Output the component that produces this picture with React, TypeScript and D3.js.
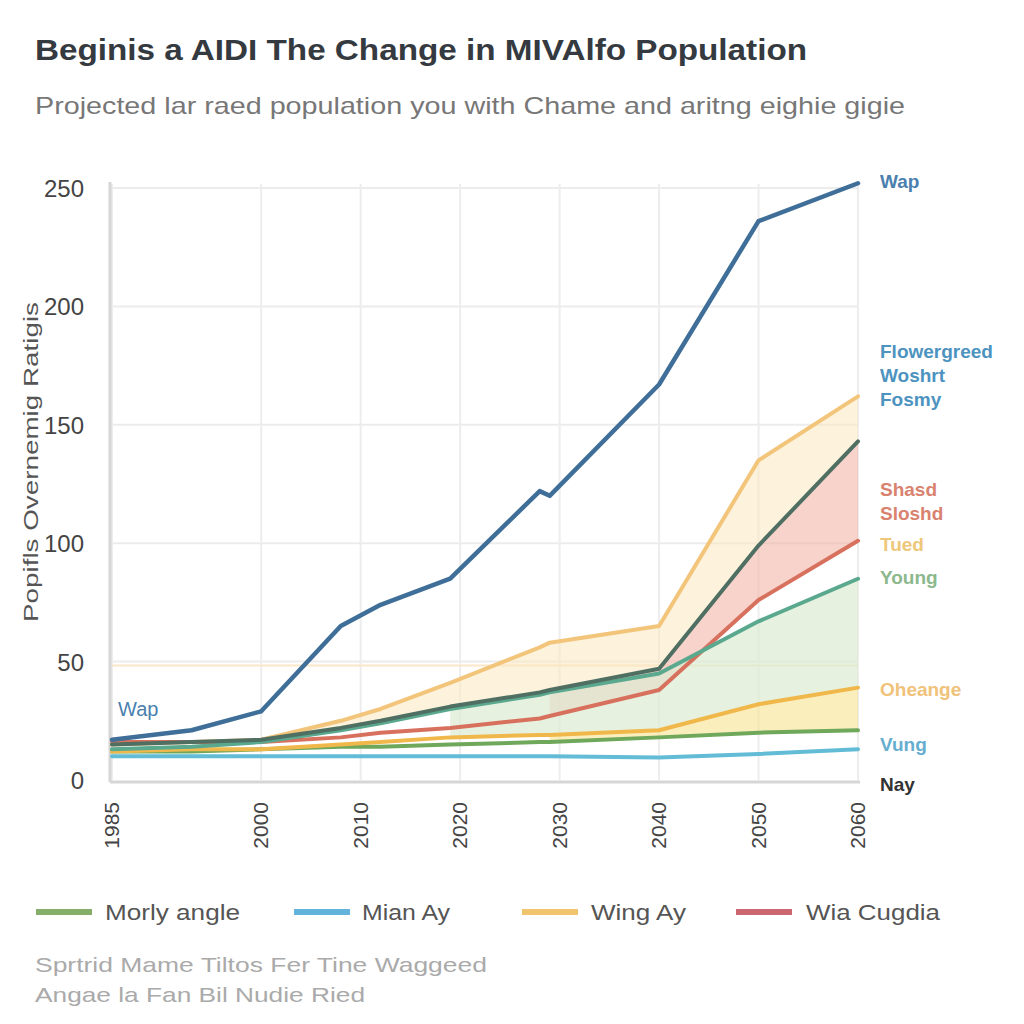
import React from "react";
import * as d3 from "d3";

const years = [1985, 1993, 2000, 2008, 2012, 2019, 2028, 2029, 2040, 2050, 2060];
const tickYears = [1985, 2000, 2010, 2020, 2030, 2040, 2050, 2060];
const yTicks = [0, 50, 100, 150, 200, 250];

const blueVals = [17, 21, 29, 65, 74, 85, 122, 120, 167, 236, 252];
const orangeTopVals = [15, 16, 17, 25, 30, 41, 56, 58, 65, 135, 162];
const darkGreenVals = [15, 16, 17, 22, 25, 31, 37, 38, 47, 99, 143];
const tealVals = [13, 14, 16, 21, 24, 30, 36, 37, 45, 67, 85];
const redVals = [16, 16, 16, 18, 20, 22, 26, 27, 38, 76, 101];
const orangeLowVals = [12, 13, 13, 15, 16, 18, 19, 19, 21, 32, 39];
const greenLowVals = [12, 12, 13, 14, 14, 15, 16, 16, 18, 20, 21];
const lightBlueVals = [10, 10, 10, 10, 10, 10, 10, 10, 9.5, 11, 13];

const legendNames = ["Morly angle", "Mian Ay", "Wing Ay", "Wia Cugdia"];
const legendColors = ["#86ad6a", "#64b3dc", "#f1c46e", "#cc6670"];

const W = 1024;
const H = 1024;
const left = 110;
const right = 858;
const top = 188;
const bottom = 780;

export default function App() {
  const x = d3.scaleLinear().domain([1985, 2060]).range([112, right]);
  const y = d3.scaleLinear().domain([0, 250]).range([bottom, top]);

  const line = (vals: number[]) =>
    d3
      .line<number>()
      .x((_, i) => x(years[i]))
      .y((v) => y(v))(vals) as string;

  const band = (hi: number[], lo: number[], from: number) => {
    const idx = years.map((_, i) => i).filter((i) => years[i] >= from);
    return d3
      .area<number>()
      .x((i) => x(years[i]))
      .y0((i) => y(lo[i]))
      .y1((i) => y(hi[i]))(idx) as string;
  };

  const series = [
    { vals: lightBlueVals, color: "#62bcd6", w: 4 },
    { vals: greenLowVals, color: "#6fa85a", w: 4 },
    { vals: orangeLowVals, color: "#f0b84a", w: 4 },
    { vals: orangeTopVals, color: "#f2c57a", w: 4 },
    { vals: redVals, color: "#d8705e", w: 4 },
    { vals: tealVals, color: "#5aa88e", w: 4 },
    { vals: darkGreenVals, color: "#4f6f62", w: 4 },
    { vals: blueVals, color: "#3f6f98", w: 4.5 },
  ];

  const rightLabels = [
    { t: ["Wap"], yy: 182, c: "#4a7fae" },
    { t: ["Flowergreed", "Woshrt", "Fosmy"], yy: 352, c: "#4d93bf" },
    { t: ["Shasd", "Sloshd"], yy: 490, c: "#d9826f" },
    { t: ["Tued"], yy: 545, c: "#eec77a" },
    { t: ["Young"], yy: 578, c: "#8cb88d" },
    { t: ["Oheange"], yy: 690, c: "#f0c27a" },
    { t: ["Vung"], yy: 745, c: "#66aed0" },
    { t: ["Nay"], yy: 785, c: "#333" },
  ];

  const font = "'Liberation Sans Narrow', 'Liberation Sans', Arial, sans-serif";
  const legendX = [36, 294, 522, 736];
  const legendTextX = [105, 362, 591, 806];
  const legendTextW = [135, 88, 95, 134];

  return (
    <svg width={W} height={H} style={{ position: "absolute", left: 0, top: 0, background: "#fff" }} fontFamily={font}>
      <rect width={W} height={H} fill="#fff" />
      <text x={35} y={60} fontSize={30} fontWeight="bold" fill="#353a40" textLength={772} lengthAdjust="spacingAndGlyphs">
        Beginis a AIDI The Change in MIVAlfo Population
      </text>
      <text x={35} y={114} fontSize={24} fill="#777" textLength={870} lengthAdjust="spacingAndGlyphs">
        Projected lar raed population you with Chame and aritng eighie gigie
      </text>

      {/* grid */}
      {yTicks.filter((t) => t > 0).map((t) => (
        <line key={"gy" + t} x1={left} x2={right} y1={y(t)} y2={y(t)} stroke="#ececec" strokeWidth={2} />
      ))}
      {tickYears.map((t) => (
        <line key={"gx" + t} x1={x(t)} x2={x(t)} y1={top - 4} y2={bottom} stroke="#ededed" strokeWidth={2} />
      ))}
      <line x1={left} x2={right} y1={y(50) + 4} y2={y(50) + 4} stroke="#fbe6c8" strokeWidth={2} />

      {/* bands */}
      <path d={band(orangeTopVals, darkGreenVals, 2000)} fill="#fbe8bf" opacity={0.55} />
      <path d={band(darkGreenVals, redVals, 2029)} fill="#f1b6aa" opacity={0.6} />
      <path d={band(tealVals, orangeLowVals, 2019)} fill="#dcebd2" opacity={0.7} />
      <path d={band(orangeLowVals, greenLowVals, 2029)} fill="#f9e291" opacity={0.6} />

      {/* axes */}
      <line x1={left} x2={left} y1={top - 6} y2={bottom + 2} stroke="#d6d6d6" strokeWidth={3} />
      <line x1={left} x2={right + 2} y1={bottom + 2} y2={bottom + 2} stroke="#d6d6d6" strokeWidth={3} />

      {series.map((s, i) => (
        <path key={i} d={line(s.vals)} fill="none" stroke={s.color} strokeWidth={s.w} strokeLinejoin="round" strokeLinecap="round" />
      ))}

      {yTicks.map((t) => (
        <text key={"yt" + t} x={84} y={y(t) + 9} fontSize={24} fill="#444" textAnchor="end">
          {t}
        </text>
      ))}
      {tickYears.map((t) => (
        <text
          key={"xt" + t}
          transform={`translate(${x(t) + 7},${802}) rotate(-90)`}
          fontSize={21}
          fill="#444"
          textAnchor="end"
        >
          {t}
        </text>
      ))}

      <text transform="translate(38,462) rotate(-90)" fontSize={21} fill="#555" textAnchor="middle" textLength={320} lengthAdjust="spacingAndGlyphs">
        Popifls Overnemig Ratigis
      </text>

      <text x={118} y={716} fontSize={20} fill="#4a7fae">Wap</text>

      {rightLabels.map((l, i) => (
        <text key={"rl" + i} x={880} y={l.yy + 6} fontSize={19} fill={l.c} fontWeight="bold">
          {l.t.map((s, j) => (
            <tspan key={j} x={880} dy={j === 0 ? 0 : 24}>
              {s}
            </tspan>
          ))}
        </text>
      ))}

      {legendNames.map((n, i) => (
        <g key={n}>
          <line x1={legendX[i]} x2={legendX[i] + 56} y1={912} y2={912} stroke={legendColors[i]} strokeWidth={6} />
          <text x={legendTextX[i]} y={920} fontSize={22} fill="#555" textLength={legendTextW[i]} lengthAdjust="spacingAndGlyphs">
            {n}
          </text>
        </g>
      ))}

      <text x={35} y={972} fontSize={21} fill="#aaa" textLength={452} lengthAdjust="spacingAndGlyphs">Sprtrid Mame Tiltos Fer Tine Waggeed</text>
      <text x={35} y={1002} fontSize={21} fill="#aaa" textLength={330} lengthAdjust="spacingAndGlyphs">Angae la Fan Bil Nudie Ried</text>
    </svg>
  );
}
